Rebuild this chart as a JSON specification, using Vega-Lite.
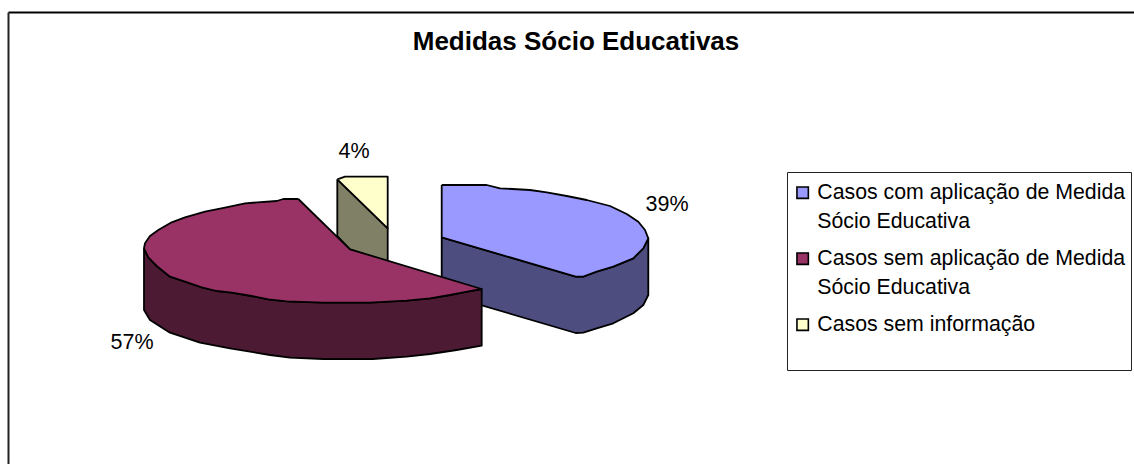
{
"$schema":"https://vega.github.io/schema/vega-lite/v6.json",
"autosize":{"type":"none"},
"padding":{"left":8,"top":12,"right":0,"bottom":0},
"width":1126,"height":452,
"background":"white",
"config":{"view":{"stroke":null},"font":"Liberation Sans","style":{"guide-label":{"lineHeight":29}}},
"title":{"text":"Medidas Sócio Educativas","font":"Liberation Sans","fontSize":26,"fontWeight":"bold","color":"#000","anchor":"middle","dx":5,"dy":64,"offset":0,"baseline":"alphabetic"},
"datasets":{
"faces":[
{"face":"lado com","ponto":1,"x":441.7,"y":237.3},{"face":"lado com","ponto":2,"x":575.7,"y":276.7},{"face":"lado com","ponto":3,"x":583.3,"y":276.7},{"face":"lado com","ponto":4,"x":596.7,"y":271.7},{"face":"lado com","ponto":5,"x":613.3,"y":266.7},{"face":"lado com","ponto":6,"x":633.3,"y":258.3},{"face":"lado com","ponto":7,"x":643.3,"y":248.3},{"face":"lado com","ponto":8,"x":648.3,"y":238.3},{"face":"lado com","ponto":9,"x":648.3,"y":295},{"face":"lado com","ponto":10,"x":643.3,"y":305},{"face":"lado com","ponto":11,"x":633.3,"y":313.3},{"face":"lado com","ponto":12,"x":613.3,"y":323.3},{"face":"lado com","ponto":13,"x":596.7,"y":328.3},{"face":"lado com","ponto":14,"x":583.3,"y":332.7},{"face":"lado com","ponto":15,"x":575.7,"y":333},{"face":"lado com","ponto":16,"x":441.7,"y":293.6},{"face":"lado com","ponto":17,"x":441.7,"y":237.3},
{"face":"Casos com aplicação de Medida Sócio Educativa","ponto":18,"x":441.7,"y":185},{"face":"Casos com aplicação de Medida Sócio Educativa","ponto":19,"x":486.7,"y":185},{"face":"Casos com aplicação de Medida Sócio Educativa","ponto":20,"x":500,"y":188.3},{"face":"Casos com aplicação de Medida Sócio Educativa","ponto":21,"x":530,"y":190},{"face":"Casos com aplicação de Medida Sócio Educativa","ponto":22,"x":546.7,"y":192.3},{"face":"Casos com aplicação de Medida Sócio Educativa","ponto":23,"x":566.7,"y":196},{"face":"Casos com aplicação de Medida Sócio Educativa","ponto":24,"x":586.7,"y":200},{"face":"Casos com aplicação de Medida Sócio Educativa","ponto":25,"x":610,"y":206},{"face":"Casos com aplicação de Medida Sócio Educativa","ponto":26,"x":626.7,"y":214},{"face":"Casos com aplicação de Medida Sócio Educativa","ponto":27,"x":638.3,"y":221.7},{"face":"Casos com aplicação de Medida Sócio Educativa","ponto":28,"x":645,"y":230},{"face":"Casos com aplicação de Medida Sócio Educativa","ponto":29,"x":648.3,"y":238.3},{"face":"Casos com aplicação de Medida Sócio Educativa","ponto":30,"x":643.3,"y":248.3},{"face":"Casos com aplicação de Medida Sócio Educativa","ponto":31,"x":633.3,"y":258.3},{"face":"Casos com aplicação de Medida Sócio Educativa","ponto":32,"x":613.3,"y":266.7},{"face":"Casos com aplicação de Medida Sócio Educativa","ponto":33,"x":596.7,"y":271.7},{"face":"Casos com aplicação de Medida Sócio Educativa","ponto":34,"x":583.3,"y":276.7},{"face":"Casos com aplicação de Medida Sócio Educativa","ponto":35,"x":575.7,"y":276.7},{"face":"Casos com aplicação de Medida Sócio Educativa","ponto":36,"x":441.7,"y":237.3},{"face":"Casos com aplicação de Medida Sócio Educativa","ponto":37,"x":441.7,"y":185},
{"face":"lado info","ponto":38,"x":337.3,"y":179.3},{"face":"lado info","ponto":39,"x":387.7,"y":228.3},{"face":"lado info","ponto":40,"x":387.7,"y":262},{"face":"lado info","ponto":41,"x":350,"y":249.3},{"face":"lado info","ponto":42,"x":337.3,"y":236},{"face":"lado info","ponto":43,"x":337.3,"y":179.3},
{"face":"Casos sem informação","ponto":44,"x":337.3,"y":179.3},{"face":"Casos sem informação","ponto":45,"x":345,"y":176.7},{"face":"Casos sem informação","ponto":46,"x":387.7,"y":176.7},{"face":"Casos sem informação","ponto":47,"x":387.7,"y":228.3},{"face":"Casos sem informação","ponto":48,"x":337.3,"y":179.3},
{"face":"lado sem","ponto":49,"x":144,"y":248.3},{"face":"lado sem","ponto":50,"x":148.3,"y":257.3},{"face":"lado sem","ponto":51,"x":156.7,"y":266},{"face":"lado sem","ponto":52,"x":170,"y":276.7},{"face":"lado sem","ponto":53,"x":185,"y":281.7},{"face":"lado sem","ponto":54,"x":201.7,"y":287.3},{"face":"lado sem","ponto":55,"x":216.7,"y":291},{"face":"lado sem","ponto":56,"x":231.7,"y":292.7},{"face":"lado sem","ponto":57,"x":251.7,"y":296},{"face":"lado sem","ponto":58,"x":268.3,"y":299.3},{"face":"lado sem","ponto":59,"x":286.7,"y":301.3},{"face":"lado sem","ponto":60,"x":323.3,"y":302.7},{"face":"lado sem","ponto":61,"x":370,"y":302.7},{"face":"lado sem","ponto":62,"x":406.7,"y":300.7},{"face":"lado sem","ponto":63,"x":430,"y":298.3},{"face":"lado sem","ponto":64,"x":450,"y":295},{"face":"lado sem","ponto":65,"x":463.3,"y":292.3},{"face":"lado sem","ponto":66,"x":481.7,"y":289},{"face":"lado sem","ponto":67,"x":481.7,"y":345.7},{"face":"lado sem","ponto":68,"x":456.7,"y":350},{"face":"lado sem","ponto":69,"x":430,"y":354},{"face":"lado sem","ponto":70,"x":406.7,"y":356.7},{"face":"lado sem","ponto":71,"x":373,"y":359},{"face":"lado sem","ponto":72,"x":323,"y":359},{"face":"lado sem","ponto":73,"x":290,"y":357.7},{"face":"lado sem","ponto":74,"x":270,"y":355},{"face":"lado sem","ponto":75,"x":230,"y":348.3},{"face":"lado sem","ponto":76,"x":200,"y":342.7},{"face":"lado sem","ponto":77,"x":170,"y":332.7},{"face":"lado sem","ponto":78,"x":150,"y":320},{"face":"lado sem","ponto":79,"x":144,"y":310},{"face":"lado sem","ponto":80,"x":144,"y":248.3},
{"face":"Casos sem aplicação de Medida Sócio Educativa","ponto":81,"x":298.3,"y":199},{"face":"Casos sem aplicação de Medida Sócio Educativa","ponto":82,"x":283.3,"y":199},{"face":"Casos sem aplicação de Medida Sócio Educativa","ponto":83,"x":276.7,"y":201},{"face":"Casos sem aplicação de Medida Sócio Educativa","ponto":84,"x":245,"y":203.3},{"face":"Casos sem aplicação de Medida Sócio Educativa","ponto":85,"x":225,"y":207.7},{"face":"Casos sem aplicação de Medida Sócio Educativa","ponto":86,"x":205,"y":211.7},{"face":"Casos sem aplicação de Medida Sócio Educativa","ponto":87,"x":185,"y":217.3},{"face":"Casos sem aplicação de Medida Sócio Educativa","ponto":88,"x":171.7,"y":222.3},{"face":"Casos sem aplicação de Medida Sócio Educativa","ponto":89,"x":158.3,"y":230},{"face":"Casos sem aplicação de Medida Sócio Educativa","ponto":90,"x":150,"y":236},{"face":"Casos sem aplicação de Medida Sócio Educativa","ponto":91,"x":145,"y":243.3},{"face":"Casos sem aplicação de Medida Sócio Educativa","ponto":92,"x":144,"y":248.3},{"face":"Casos sem aplicação de Medida Sócio Educativa","ponto":93,"x":148.3,"y":257.3},{"face":"Casos sem aplicação de Medida Sócio Educativa","ponto":94,"x":156.7,"y":266},{"face":"Casos sem aplicação de Medida Sócio Educativa","ponto":95,"x":170,"y":276.7},{"face":"Casos sem aplicação de Medida Sócio Educativa","ponto":96,"x":185,"y":281.7},{"face":"Casos sem aplicação de Medida Sócio Educativa","ponto":97,"x":201.7,"y":287.3},{"face":"Casos sem aplicação de Medida Sócio Educativa","ponto":98,"x":216.7,"y":291},{"face":"Casos sem aplicação de Medida Sócio Educativa","ponto":99,"x":231.7,"y":292.7},{"face":"Casos sem aplicação de Medida Sócio Educativa","ponto":100,"x":251.7,"y":296},{"face":"Casos sem aplicação de Medida Sócio Educativa","ponto":101,"x":268.3,"y":299.3},{"face":"Casos sem aplicação de Medida Sócio Educativa","ponto":102,"x":286.7,"y":301.3},{"face":"Casos sem aplicação de Medida Sócio Educativa","ponto":103,"x":323.3,"y":302.7},{"face":"Casos sem aplicação de Medida Sócio Educativa","ponto":104,"x":370,"y":302.7},{"face":"Casos sem aplicação de Medida Sócio Educativa","ponto":105,"x":406.7,"y":300.7},{"face":"Casos sem aplicação de Medida Sócio Educativa","ponto":106,"x":430,"y":298.3},{"face":"Casos sem aplicação de Medida Sócio Educativa","ponto":107,"x":450,"y":295},{"face":"Casos sem aplicação de Medida Sócio Educativa","ponto":108,"x":463.3,"y":292.3},{"face":"Casos sem aplicação de Medida Sócio Educativa","ponto":109,"x":481.7,"y":289},{"face":"Casos sem aplicação de Medida Sócio Educativa","ponto":110,"x":350,"y":249.3},{"face":"Casos sem aplicação de Medida Sócio Educativa","ponto":111,"x":298.3,"y":199}
]},
"layer":[
{"data":{"values":[{"x":787.5,"x2":1131.5,"y":172.5,"y2":370.5}]},
"mark":{"type":"rect","fill":"white","stroke":"#222","strokeWidth":1},
"encoding":{
"x":{"field":"x","type":"quantitative","scale":{"domain":[8,1134],"nice":false,"zero":false},"axis":{"orient":"top","ticks":false,"labels":false,"title":null,"grid":false,"domainColor":"#000","domainWidth":2}},
"x2":{"field":"x2"},
"y":{"field":"y","type":"quantitative","scale":{"domain":[464,12],"nice":false,"zero":false},"axis":{"orient":"left","ticks":false,"labels":false,"title":null,"grid":false,"domainColor":"#222","domainWidth":2}},
"y2":{"field":"y2"}}},
{"data":{"name":"faces"},
"mark":{"type":"line","filled":true,"stroke":"#000","strokeWidth":1.8,"strokeJoin":"round","clip":false},
"encoding":{
"x":{"field":"x","type":"quantitative"},
"y":{"field":"y","type":"quantitative"},
"detail":{"field":"face"},
"order":{"field":"ponto","type":"quantitative"},
"fill":{"field":"face","type":"nominal",
"scale":{"domain":["Casos com aplicação de Medida Sócio Educativa","Casos sem aplicação de Medida Sócio Educativa","Casos sem informação","lado com","lado sem","lado info"],"range":["#9999FF","#993366","#FFFFCC","#4D4D80","#4D1A33","#808066"]},
"legend":{"orient":"none","legendX":776,"legendY":162,"title":null,"values":["Casos com aplicação de Medida Sócio Educativa","Casos sem aplicação de Medida Sócio Educativa","Casos sem informação"],"symbolType":"square","symbolSize":130,"symbolStrokeColor":"#000","symbolStrokeWidth":1.6,"symbolOpacity":1,"labelFont":"Liberation Sans","labelFontSize":21.3,"labelColor":"#000","labelLimit":340,"labelOffset":4,"rowPadding":15,"padding":8,
"labelExpr":"datum.label=='Casos sem informação' ? datum.label : split(replace(datum.label,' de Medida Sócio',' de Medida|Sócio'),'|')"}}}},
{"data":{"values":[{"x":354,"y":152,"rotulo":"4%"},{"x":667,"y":205,"rotulo":"39%"},{"x":132,"y":343,"rotulo":"57%"}]},
"mark":{"type":"text","font":"Liberation Sans","fontSize":21.5,"color":"#000","align":"center","baseline":"middle"},
"encoding":{"x":{"field":"x","type":"quantitative"},"y":{"field":"y","type":"quantitative"},"text":{"field":"rotulo"}}}
]}
